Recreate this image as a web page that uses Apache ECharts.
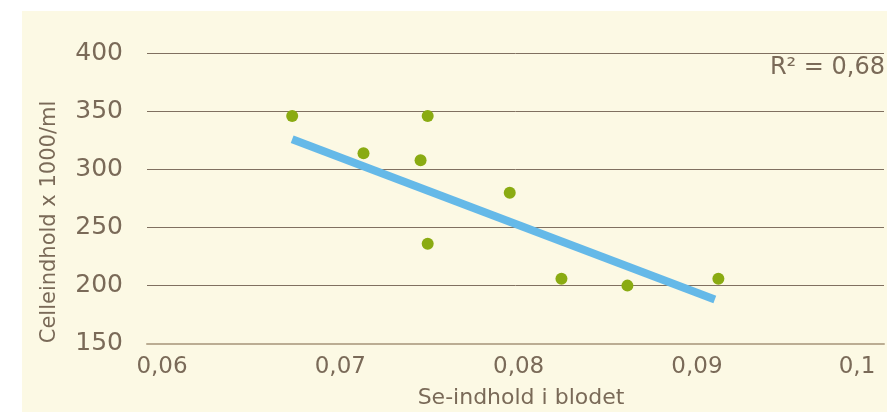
<!DOCTYPE html>
<html>
<head>
<meta charset="utf-8">
<script src="https://cdn.jsdelivr.net/npm/echarts@6/dist/echarts.min.js"></script>
<style>
  html, body { margin: 0; padding: 0; background: #ffffff; width: 887px; height: 412px; overflow: hidden; }
  #chart { position: absolute; left: 22px; top: 11px; width: 865px; height: 401px; }
</style>
</head>
<body>
<div id="chart"></div>
<script>
// Se content in blood vs. cell count
const seContent = [0.0673, 0.0713, 0.0745, 0.0749, 0.0749, 0.0795, 0.0824, 0.0861, 0.0912];
const cellCount = [346, 314, 308, 346, 236, 280, 206, 200, 206];

// Trend line end points
const trendX = [0.0673, 0.0910];
const trendY = [326, 188];

const xTicks = { min: 0.06, max: 0.1, step: 0.01 };
const yTicks = { min: 150, max: 400, step: 50 };
const rSquaredText = 'R² = 0,68';
const xTitle = 'Se-indhold i blodet';
const yTitle = 'Celleindhold x 1000/ml';

const textColor = '#7a6a58';
const fontFamily = '"DejaVu Sans", sans-serif';

const points = seContent.map((x, i) => [x, cellCount[i]]);
const trend = trendX.map((x, i) => [x, trendY[i]]);

const chart = echarts.init(document.getElementById('chart'));
chart.setOption({
  backgroundColor: '#fcf9e4',
  animation: false,
  grid: [
    { left: 125, right: 3, top: 42.3, bottom: 68.3 },
    { left: 140, right: 11.7, top: 42.3, bottom: 68.3 }
  ],
  xAxis: [
    {
      gridIndex: 0, type: 'value', min: 0, max: 1,
      axisLine: { show: true, lineStyle: { color: '#bbad93', width: 2 } },
      axisTick: { show: false }, axisLabel: { show: false }, splitLine: { show: false }
    },
    {
      gridIndex: 1, type: 'value', min: xTicks.min, max: xTicks.max, interval: xTicks.step,
      axisLine: { show: false }, axisTick: { show: false }, splitLine: { show: false },
      axisLabel: {
        color: textColor, fontFamily, fontSize: 23, margin: 12,
        alignMaxLabel: 'right',
        formatter: v => String(+v.toFixed(2)).replace('.', ',')
      }
    }
  ],
  yAxis: [
    {
      gridIndex: 0, type: 'value', min: yTicks.min, max: yTicks.max, interval: yTicks.step,
      axisLine: { show: false }, axisTick: { show: false },
      axisLabel: { color: textColor, fontFamily, fontSize: 25, margin: 24 },
      splitLine: { show: true, lineStyle: { color: '#807060', width: 1 } }
    },
    {
      gridIndex: 1, type: 'value', min: yTicks.min, max: yTicks.max, show: false
    }
  ],
  graphic: [
    {
      type: 'text', x: 28, y: 211, rotation: Math.PI / 2,
      style: { text: yTitle, fill: textColor, font: '21px ' + fontFamily, align: 'center', verticalAlign: 'middle' }
    },
    {
      type: 'text', x: 499, y: 387,
      style: { text: xTitle, fill: textColor, font: '22px ' + fontFamily, align: 'center', verticalAlign: 'middle' }
    },
    {
      type: 'text', x: 863, y: 57,
      style: { text: rSquaredText, fill: textColor, font: '24px ' + fontFamily, align: 'right', verticalAlign: 'middle' }
    }
  ],
  series: [
    {
      type: 'line', xAxisIndex: 1, yAxisIndex: 1, data: trend,
      symbol: 'none', z: 2,
      lineStyle: { color: '#65b9e8', width: 8, cap: 'butt' }
    },
    {
      type: 'scatter', xAxisIndex: 1, yAxisIndex: 1, data: points,
      symbol: 'circle', symbolSize: 12, z: 3,
      itemStyle: { color: '#8aab12', opacity: 1 }
    }
  ]
});
</script>
</body>
</html>
